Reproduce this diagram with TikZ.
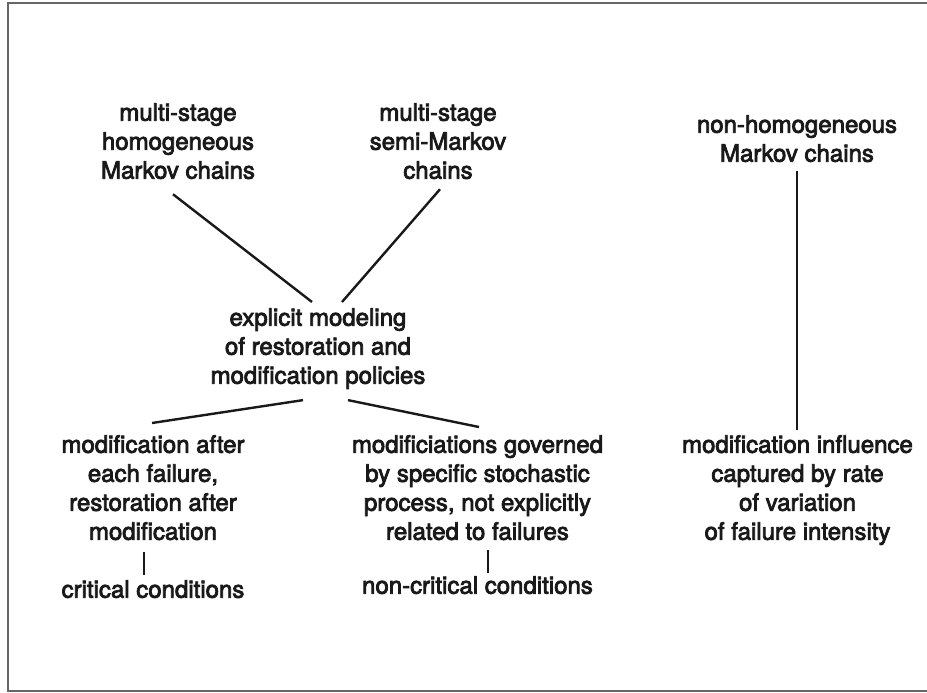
\documentclass[tikz,border=0pt]{standalone}
\usepackage{fontspec}
\setmainfont{TeX Gyre Heros}[FakeBold=3.2]
\begin{document}
\begin{tikzpicture}[x=1pt,y=-1pt,
  label/.style={align=center,inner sep=0pt,anchor=north,
    font=\fontsize{24}{29}\selectfont,text=black!90},
  link/.style={line width=2.4pt,black!90},
  frame/.style={line width=2pt,black!60}]
\useasboundingbox (0,0) rectangle (927,693);
\fill[white] (0,0) rectangle (927,693);
\draw[frame] (8,3) rectangle (940,691);

% model families
\node[label] (hom)  at (178,103) {multi-stage\\homogeneous\\Markov chains};
\node[label] (semi) at (438,103) {multi-stage\\semi-Markov\\chains};
\node[label] (nonh) at (797,115) {non-homogeneous\\Markov chains};

% explicit modelling branch
\node[label] (expl) at (318,308) {explicit modeling\\of restoration and\\modification policies};
\node[label] (after) at (153,435) {modification after\\each failure,\\restoration after\\modification};
\node[label] (stoch) at (477.5,435) {modificiations governed\\by specific stochastic\\process, not explicitly\\related to failures};
\node[label] (crit) at (153,580) {critical conditions};
\node[label] (noncrit) at (477.5,576) {non-critical conditions};

% rate-of-variation branch
\node[label] (rate) at (797.5,435) {modification influence\\captured by rate\\of variation\\of failure intensity};

% connectors
\draw[link] ([xshift=-5pt,yshift=-15pt]hom.south) -- ([xshift=-6pt,yshift=6pt]expl.north);
\draw[link] ([xshift=2pt,yshift=-10pt]semi.south) -- ([xshift=24pt,yshift=6pt]expl.north);
\draw[link] ([xshift=-15pt,yshift=-11pt]expl.south) -- ([xshift=-1pt,yshift=12pt]after.north);
\draw[link] ([xshift=30pt,yshift=-11pt]expl.south) -- ([xshift=1.5pt,yshift=8pt]stoch.north);
\draw[link] ([xshift=-9pt,yshift=-12pt]after.south) -- ([xshift=-9pt,yshift=5pt]crit.north);
\draw[link] ([xshift=10.5pt,yshift=-10pt]stoch.south) -- ([xshift=10.5pt,yshift=3pt]noncrit.north);
\draw[link] ([yshift=-9pt]nonh.south) -- ([xshift=-0.5pt,yshift=5pt]rate.north);
\end{tikzpicture}
\end{document}
